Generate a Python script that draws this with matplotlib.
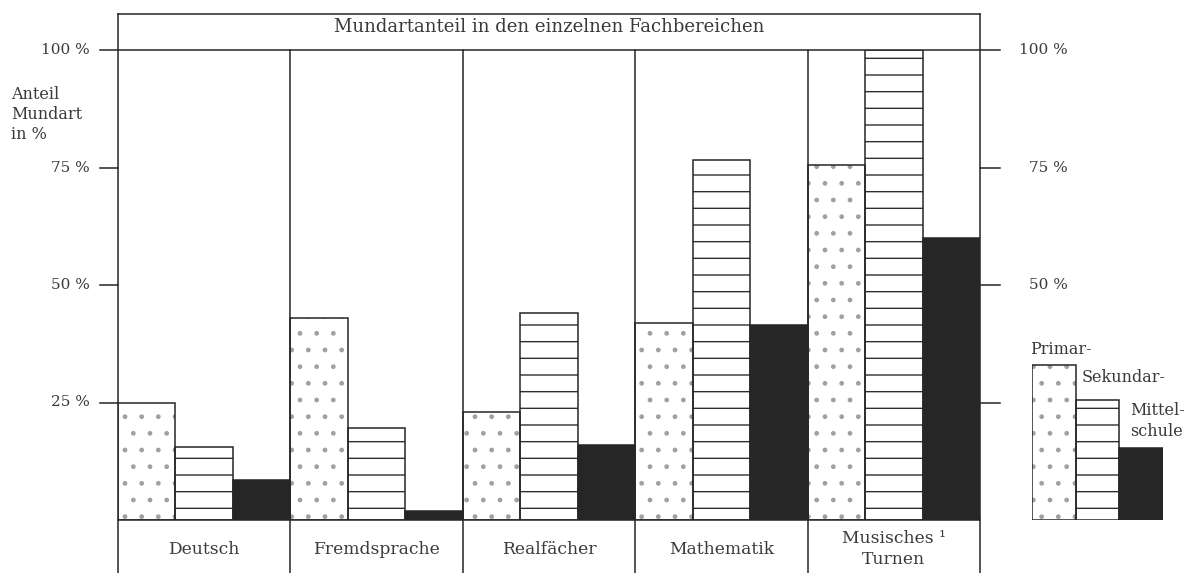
import matplotlib
matplotlib.use('Agg')
import matplotlib.pyplot as plt
import numpy as np

# ---------------- data ----------------
categories = ['Deutsch', 'Fremdsprache', 'Realfächer', 'Mathematik', 'Musisches \u00b9\nTurnen']
series = ['Primar-', 'Sekundar-', 'Mittel-\nschule']
primar = [25, 43, 23, 42, 75.5]
sekundar = [15.5, 19.5, 44, 76.5, 100]
mittelschule = [8.5, 2, 16, 41.5, 60]
yticks = [25, 50, 75, 100]
left_labels = ['25 %', '50 %', '75 %', '100 %']
right_labels = ['', '50 %', '75 %', '100 %']
title = 'Mundartanteil in den einzelnen Fachbereichen'
ylabel = 'Anteil\nMundart\nin %'
legend_heights = [33, 25.5, 15.3]

# ---------------- style ----------------
W, H = 1203, 573
INK = '#262626'
TXT = '#3a3a3a'
FONT = 'DejaVu Serif'
plt.rcParams['font.family'] = [FONT, 'DejaVu Sans']
plt.rcParams['hatch.linewidth'] = 1.0

fig = plt.figure(figsize=(W / 100, H / 100), dpi=100)
fig.patch.set_facecolor('white')

def px2fig(x, y):
    return x / W, 1 - y / H

# main axes: x 118..980 px, y baseline 520 px, 100% at 50 px
ax = fig.add_axes([118 / W, (H - 520) / H, 862 / W, 470 / H])
ax.set_xlim(0, len(categories))
ax.set_ylim(0, 100)
ax.axis('off')

n = len(categories)
x = np.arange(n)
w = 1 / 3
styles = [
    dict(facecolor='white', hatch='.', hcolor='#a0a0a0'),
    dict(facecolor='white', hatch='-', hcolor='#2e2e2e'),
    dict(facecolor='#262626', hatch=None, hcolor='#262626'),
]
for j, vals in enumerate([primar, sekundar, mittelschule]):
    st = styles[j]
    ax.bar(x + j * w, vals, width=w, align='edge', color=st['facecolor'],
           edgecolor=st['hcolor'], hatch=st['hatch'], linewidth=0, zorder=2)
    ax.bar(x + j * w, vals, width=w, align='edge', fill=False,
           edgecolor=INK, linewidth=1.1, zorder=3)

lw = 1.1
kw = dict(color=INK, lw=lw, clip_on=False, zorder=4)
px_per_x = 862 / n
px_per_y = 470 / 100
ytop_box = (520 - 14) / px_per_y
ybot = (520 - 575) / px_per_y
xl = -18 / px_per_x
xr = n + 20 / px_per_x

# top line (100 %) and title box
ax.plot([xl, xr], [100, 100], **kw)
ax.plot([0, n], [ytop_box, ytop_box], **kw)
ax.plot([0, 0], [ybot, ytop_box], **kw)
ax.plot([n, n], [ybot, ytop_box], **kw)
# category separators down through label box
for i in range(1, n):
    ax.plot([i, i], [ybot, 100], **kw)
# baseline
ax.plot([0, n], [0, 0], **kw)
# tick marks
for t in yticks[:-1]:
    ax.plot([xl, 0], [t, t], **kw)
    ax.plot([n, xr], [t, t], **kw)

ax.text(n / 2, (100 + ytop_box) / 2 + 1, title, ha='center', va='center',
        fontsize=13, color=TXT)

for i, c in enumerate(categories):
    ax.text(i + 0.5, -29 / px_per_y, c, ha='center', va='center',
            fontsize=12.3, color=TXT, linespacing=1.25)

for t, lab in zip(yticks, left_labels):
    ax.text(-28 / px_per_x, t, lab, ha='right', va='center', fontsize=11, color=TXT)
for t, lab in zip(yticks, right_labels):
    ax.text(n + 88 / px_per_x, t, lab, ha='right', va='center', fontsize=11, color=TXT)

fx, fy = px2fig(11, 86)
fig.text(fx, fy, ylabel, ha='left', va='top', fontsize=11.5, color=TXT, linespacing=1.22)

# legend samples
lax = fig.add_axes([1032 / W, (H - 520) / H, 131 / W, 470 / H])
lax.set_xlim(0, 3)
lax.set_ylim(0, 100)
lax.axis('off')
for j in range(3):
    st = styles[j]
    lax.bar(j, legend_heights[j], width=1, align='edge', color=st['facecolor'],
            edgecolor=st['hcolor'], hatch=st['hatch'], linewidth=0, zorder=2)
    lax.bar(j, legend_heights[j], width=1, align='edge', fill=False,
            edgecolor=INK, linewidth=1.1, zorder=3)
legend_pos = [(1030, 350), (1082, 378), (1130, 421)]
for (lx, ly), lab in zip(legend_pos, series):
    fx, fy = px2fig(lx, ly)
    fig.text(fx, fy, lab, ha='left', va='center', fontsize=11.5, color=TXT, linespacing=1.3)

fig.savefig('out.png', dpi=100, facecolor='white')
